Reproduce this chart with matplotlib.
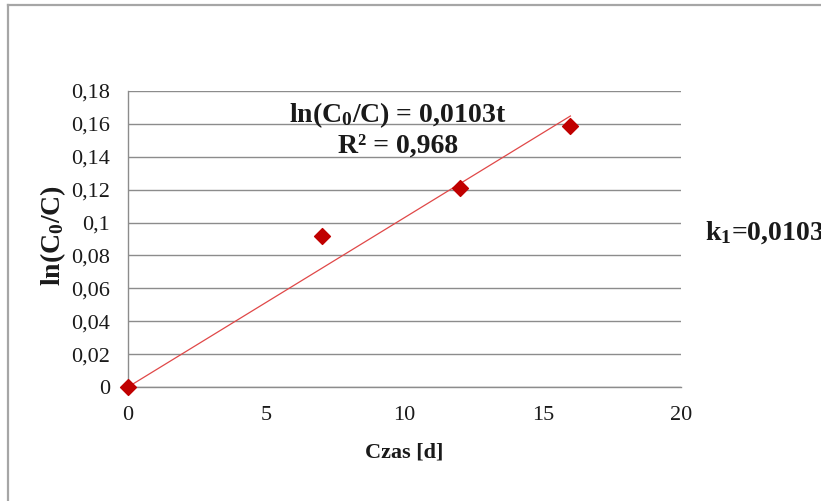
import matplotlib
matplotlib.use("Agg")
import matplotlib.pyplot as plt
from matplotlib.lines import Line2D
import numpy as np

plt.rcParams['font.family'] = ['Liberation Serif', 'DejaVu Serif']
plt.rcParams['mathtext.default'] = 'regular'

# data
czas = [0, 7, 12, 16]
ln_c0_c = [0.0, 0.092, 0.121, 0.159]
slope = 0.0103
trend_t = np.array([0, 16])
yticks = [0, 0.02, 0.04, 0.06, 0.08, 0.1, 0.12, 0.14, 0.16, 0.18]
ytick_labels = ['0', '0,02', '0,04', '0,06', '0,08', '0,1', '0,12', '0,14', '0,16', '0,18']
xticks = [0, 5, 10, 15, 20]

W, H = 821, 501
fig = plt.figure(figsize=(W / 100, H / 100), dpi=100)
ax = fig.add_axes([128 / W, (H - 387) / H, 553 / W, 296 / H])

# outer chart frame (right/bottom edges are outside the picture)
frame_col = '#a6a6a6'
fig.add_artist(Line2D([8 / W, 8 / W], [0, (H - 5) / H], color=frame_col, lw=1.6))
fig.add_artist(Line2D([8 / W, 1], [(H - 5) / H, (H - 5) / H], color=frame_col, lw=1.6))

ax.set_xlim(0, 20)
ax.set_ylim(0, 0.18)
ax.set_yticks(yticks, labels=ytick_labels)
ax.set_xticks(xticks, labels=[str(x) for x in xticks])
ax.tick_params(length=0, labelsize=16, colors='#1a1a1a')
ax.tick_params(axis='y', pad=13)
ax.tick_params(axis='x', pad=14)
ax.yaxis.grid(True, color='#8c8c8c', lw=1)
ax.set_axisbelow(True)
for s in ['top', 'right']:
    ax.spines[s].set_visible(False)
for s in ['left', 'bottom']:
    ax.spines[s].set_color('#8c8c8c')
    ax.spines[s].set_linewidth(1)

ax.plot(trend_t, slope * trend_t, color='#e04848', lw=0.9, zorder=3)
ax.scatter(czas, ln_c0_c, marker='D', s=65, color='#c00000', zorder=4, clip_on=False)

ax.set_xlabel('Czas [d]', fontsize=16, fontweight='bold', color='#1a1a1a')
ax.xaxis.set_label_coords(0.5, -(443 - 387) / 296)
ax.set_ylabel('ln(C$_0$/C)', fontsize=20, fontweight='bold', color='#1a1a1a')
ax.yaxis.set_label_coords(-(128 - 68) / 553, (387 - 236) / 296)

ax.text(0.488, 0.92, 'ln(C$_0$/C) = 0,0103t', transform=ax.transAxes, fontsize=20,
        fontweight='bold', ha='center', va='center', color='#1a1a1a')
ax.text(0.488, 0.812, 'R² = 0,968', transform=ax.transAxes, fontsize=20,
        fontweight='bold', ha='center', va='center', color='#1a1a1a')

fig.text(705 / W, (H - 233) / H, 'k$_1$=0,0103', fontsize=20, fontweight='bold',
         ha='left', va='center', color='#1a1a1a')

fig.savefig('out.png', dpi=100)
